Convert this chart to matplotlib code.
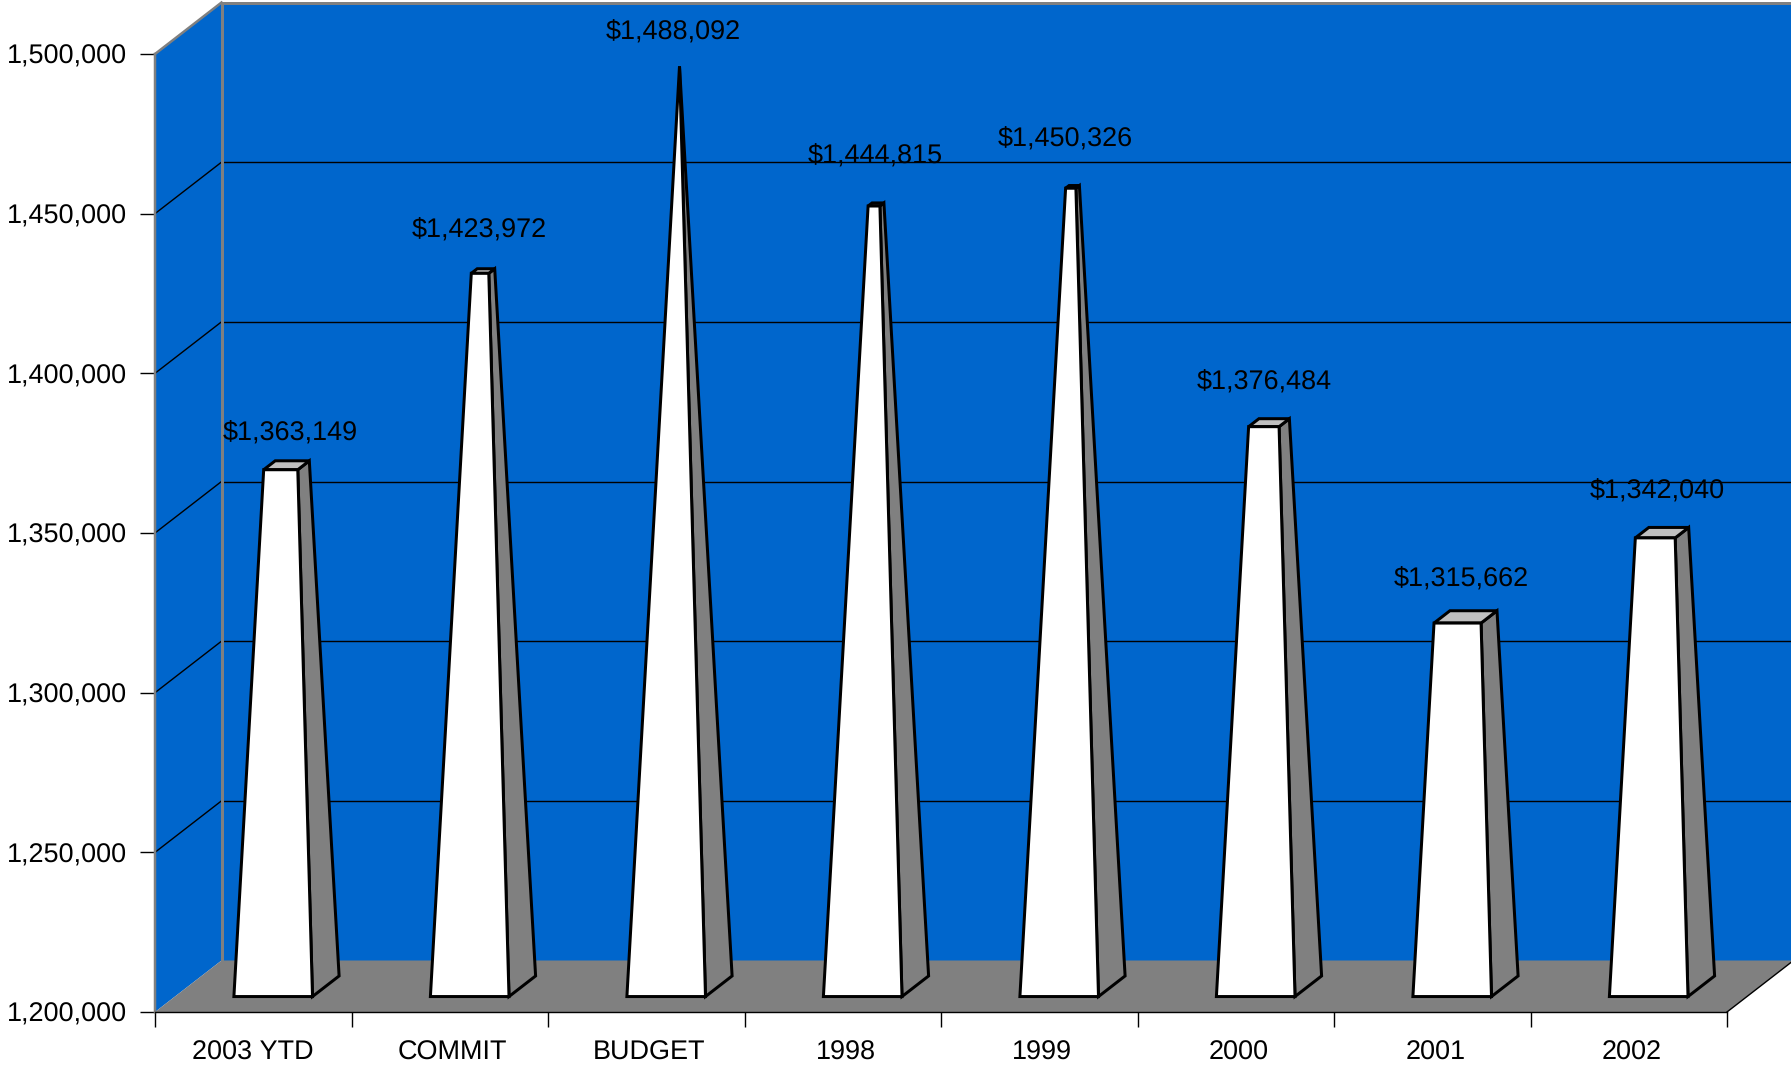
#!/usr/bin/env python
# encoding: utf-8
import matplotlib
matplotlib.use('Agg')
import matplotlib.pyplot as plt
from matplotlib.patches import Polygon

categories = ['2003 YTD', 'COMMIT', 'BUDGET', '1998', '1999', '2000', '2001', '2002']
values = [1363149, 1423972, 1488092, 1444815, 1450326, 1376484, 1315662, 1342040]
y_ticks = [1200000, 1250000, 1300000, 1350000, 1400000, 1450000, 1500000]

# label nudges in pixels, the original placed them by hand
label_dx = [37, 30, 27, 33, 26, 29, 29, 29]
label_lift = [57, 66, 59, 74, 73, 66, 63, 67]

BLUE = '#0066CC'
GREY = '#808080'
LIGHT = '#C0C0C0'
W, H = 1791, 1068
PX = 72 / 100  # one pixel in points
FONT_PX = 27.0

plt.rcParams['font.family'] = ['Liberation Sans', 'DejaVu Sans']
plt.rcParams['text.hinting'] = 'no_hinting'
plt.rcParams['text.hinting_factor'] = 1

fig = plt.figure(figsize=(W / 100, H / 100), dpi=100, facecolor='white')
ax = fig.add_axes([155 / W, 1 - 1012 / H, (1727 - 155) / W, (1012 - 54) / H])
ax.set_xlim(0, len(categories))
ax.set_ylim(y_ticks[0], y_ticks[-1])
ax.patch.set_visible(False)

# depth of the 3d box in axis units
DX = 66.5 / 196.5
DY = 51.5 * (y_ticks[-1] - y_ticks[0]) / (1012 - 54)
bottom = y_ticks[0]
right = len(categories) + 1


def proj(x, v, d):
    return x + d * DX, v + d * DY


def poly(points, face, edge='none', lw=0.0, z=1):
    ax.add_patch(Polygon(points, closed=True, facecolor=face, edgecolor=edge,
                         linewidth=lw, joinstyle='miter', clip_on=False, zorder=z))


# walls and floor
poly([proj(0, bottom, 1), proj(right, bottom, 1), proj(right, y_ticks[-1], 1), proj(0, y_ticks[-1], 1)], BLUE)
poly([proj(0, bottom, 0), proj(0, bottom, 1), proj(0, y_ticks[-1], 1), proj(0, y_ticks[-1], 0)], BLUE)
poly([proj(0, bottom, 0), proj(8, bottom, 0), proj(8, bottom, 1), proj(right, bottom, 1), proj(0, bottom, 1)], GREY)

# gridlines on side wall and back wall
for v in y_ticks[1:-1]:
    x0, y0 = proj(0, v, 1)
    ax.plot([0, x0], [v, y0], color='black', lw=1.4 * PX, clip_on=False, zorder=2)
    ax.plot([x0, right], [y0, y0], color='black', lw=1.4 * PX, clip_on=False, zorder=2)

# grey wall edges
x0, y0 = proj(0, y_ticks[-1], 1)
ax.plot([0, x0], [y_ticks[-1], y0], color=GREY, lw=2.5 * PX, clip_on=False, zorder=2)
ax.plot([x0, right], [y0, y0], color=GREY, lw=3 * PX, clip_on=False, zorder=2)
ax.plot([x0, x0], [proj(0, bottom, 1)[1], y0], color=GREY, lw=3 * PX, clip_on=False, zorder=2)
ax.plot([8, proj(8, bottom, 1)[0]], [bottom, proj(8, bottom, 1)[1]], color='black',
        lw=1.4 * PX, clip_on=False, zorder=2)

# pyramids cut at their value, the tallest one comes to a point
half = 0.2
d_near, d_far = 0.30, 0.70
tallest = max(values) - bottom
for i, val in enumerate(values):
    c = i + 0.5
    f = (val - bottom) / tallest
    apex = proj(c, bottom + tallest, (d_near + d_far) / 2)
    base = {
        'fl': proj(c - half, bottom, d_near),
        'fr': proj(c + half, bottom, d_near),
        'br': proj(c + half, bottom, d_far),
        'bl': proj(c - half, bottom, d_far),
    }
    top = {k: (p[0] + (apex[0] - p[0]) * f, p[1] + (apex[1] - p[1]) * f) for k, p in base.items()}
    z = 3 + i
    poly([base['fr'], base['br'], top['br'], top['fr']], GREY, 'black', 3 * PX, z)
    poly([top['fl'], top['fr'], top['br'], top['bl']], LIGHT, 'black', 3 * PX, z)
    poly([base['fl'], base['fr'], top['fr'], top['fl']], 'white', 'black', 3 * PX, z)

    ax.annotate('${:,}'.format(val), xy=(c, val),
                xytext=(label_dx[i] * PX, label_lift[i] * PX), textcoords='offset points',
                ha='center', va='center', fontsize=FONT_PX * PX, color='black', zorder=20,
                annotation_clip=False)

# real axes for ticks and labels
for name in ['top', 'right']:
    ax.spines[name].set_visible(False)
ax.spines['left'].set_color(GREY)
ax.spines['left'].set_linewidth(2.5 * PX)
ax.spines['left'].set_zorder(2)
ax.spines['bottom'].set_color('black')
ax.spines['bottom'].set_linewidth(1.4 * PX)
ax.spines['bottom'].set_zorder(2)

ax.set_yticks(y_ticks)
ax.set_yticklabels(['{:,}'.format(v) for v in y_ticks])
ax.tick_params(axis='y', length=15 * PX, width=1.4 * PX, pad=13 * PX, labelsize=FONT_PX * PX)

ax.set_xticks(range(len(categories) + 1))
ax.set_xticklabels([])
ax.set_xticks([i + 0.5 + (0.015 if i else 0) for i in range(len(categories))], minor=True)
ax.set_xticklabels(categories, minor=True)
ax.tick_params(axis='x', which='major', length=15 * PX, width=1.4 * PX)
ax.tick_params(axis='x', which='minor', length=0, pad=28 * PX, labelsize=FONT_PX * PX)
ticks = ax.xaxis.get_major_ticks()
ticks[0].tick1line.set_color(GREY)
ticks[-1].tick1line.set_color(GREY)

fig.savefig('out.png', dpi=100)
